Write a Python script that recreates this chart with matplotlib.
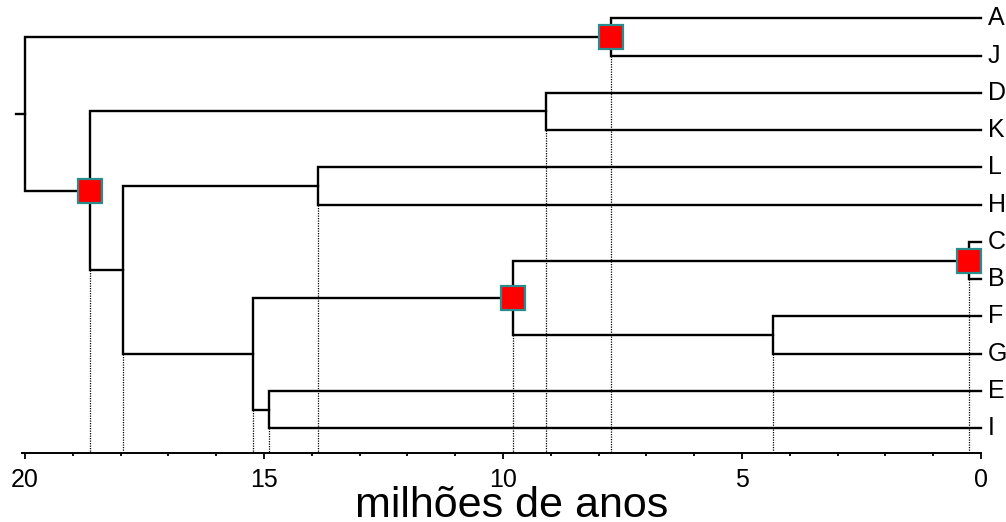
import matplotlib
matplotlib.use('Agg')
import matplotlib.pyplot as plt
from matplotlib.ticker import MultipleLocator

plt.rcParams['font.family'] = ['Liberation Sans', 'DejaVu Sans']

# ---- data ----
leaves = ['A', 'J', 'D', 'K', 'L', 'H', 'C', 'B', 'F', 'G', 'E', 'I']
merge_names = ['AJ', 'DK', 'LH', 'CB', 'FG', 'CBFG', 'EI', 'CBFGEI',
               'LHCBFGEI', 'DKrest', 'root']
merge_left = ['A', 'D', 'L', 'C', 'F', 'CB', 'E', 'CBFG', 'LH', 'DK', 'AJ']
merge_right = ['J', 'K', 'H', 'B', 'G', 'FG', 'I', 'EI', 'CBFGEI',
               'LHCBFGEI', 'DKrest']
merge_age = [7.75, 9.11, 13.88, 0.26, 4.35, 9.80, 14.90, 15.23, 17.96,
             18.64, 20.0]
marked = ['AJ', 'DKrest', 'CBFG', 'CB']
xticks = [20, 15, 10, 5, 0]
xlabel = 'milhões de anos'

W, H = 1006, 522
fig = plt.figure(figsize=(W / 100, H / 100), dpi=100)
ax_left_px, ax_right_px = 21.7, 981.0
ax_bottom_px = 453.3
ax = fig.add_axes([ax_left_px / W, (H - ax_bottom_px) / H,
                   (ax_right_px - ax_left_px) / W, ax_bottom_px / H])

ybottom = 11.67
ax.set_xlim(20.07, 0)
ax.set_ylim(ybottom, -0.49)

pos = {name: (0.0, float(i)) for i, name in enumerate(leaves)}
lw = 1.7
for name, l, r, age in zip(merge_names, merge_left, merge_right, merge_age):
    xl, yl = pos[l]
    xr, yr = pos[r]
    ax.plot([xl, age, age, xr], [yl, yl, yr, yr], color='black', lw=lw,
            solid_joinstyle='miter', zorder=3, clip_on=False)
    ym = (yl + yr) / 2
    pos[name] = (age, ym)
    if name != 'root':
        ax.plot([age, age], [max(yl, yr), ybottom], color='black', lw=0.9,
                linestyle=(0, (1, 1)), zorder=2)
    else:
        ax.plot([age, age + 0.19], [ym, ym], color='black', lw=lw,
                clip_on=False, zorder=3)

for name in marked:
    x, y = pos[name]
    ax.plot([x], [y], marker='s', ms=17, mfc='#ff0000', mec='#2a8c8c',
            mew=1.6, zorder=5, clip_on=False)

for i, name in enumerate(leaves):
    ax.annotate(name, xy=(0, i), xytext=(5, 0), textcoords='offset points',
                ha='left', va='center', fontsize=18, annotation_clip=False)

for s in ['left', 'top', 'right']:
    ax.spines[s].set_visible(False)
ax.spines['bottom'].set_linewidth(1.4)
ax.set_yticks([])
ax.set_xticks(xticks)
ax.set_xticklabels([str(t) for t in xticks])
ax.xaxis.set_minor_locator(MultipleLocator(1))
ax.tick_params(axis='x', which='major', direction='out', length=4.5,
               width=1.3, labelsize=18, pad=6)
ax.tick_params(axis='x', which='minor', direction='out', length=2,
               width=1.3)
ax.patch.set_alpha(0)

fig.text(512 / W, (H - 516.7) / H, xlabel, ha='center', va='baseline',
         fontsize=31)

fig.savefig('out.png', dpi=100)
